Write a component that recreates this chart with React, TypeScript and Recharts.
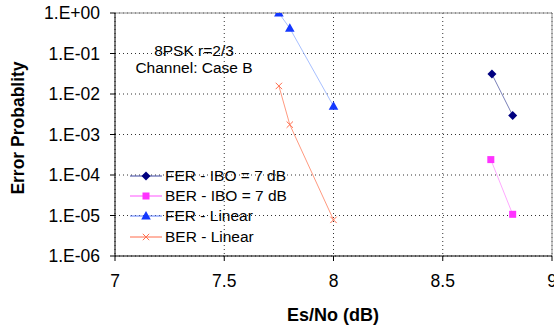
import React from "react";
import {
  CartesianGrid,
  Line,
  LineChart,
  ReferenceLine,
  XAxis,
  YAxis,
} from "recharts";

// Es/No (dB) and error probability
const ferIboX = [8.725, 8.82];
const ferIboY = [3.1e-2, 2.95e-3];
const berIboX = [8.72, 8.82];
const berIboY = [2.4e-4, 1.07e-5];
const ferLinX = [7.75, 7.8, 8.0];
const ferLinY = [1.0, 4.2e-1, 5.0e-3];
const berLinX = [7.75, 7.8, 8.0];
const berLinY = [1.58e-2, 1.75e-3, 7.8e-6];

const xTicks = [7, 7.5, 8, 8.5, 9];
const yTicks = [1e-6, 1e-5, 1e-4, 1e-3, 1e-2, 1e-1, 1];

const FONT = '"Liberation Sans", Arial, sans-serif';

type MarkerKind = "diamond" | "square" | "triangle" | "cross";

const SERIES: {
  key: string;
  name: string;
  xs: number[];
  ys: number[];
  marker: MarkerKind;
  fill: string;
  line: string;
  legendLine: string;
}[] = [
  { key: "ferIbo", name: "FER - IBO = 7 dB", xs: ferIboX, ys: ferIboY, marker: "diamond", fill: "#000080", line: "#7a80b8", legendLine: "#3a44a0" },
  { key: "berIbo", name: "BER - IBO = 7 dB", xs: berIboX, ys: berIboY, marker: "square", fill: "#ff33ff", line: "#ffa8ff", legendLine: "#ff55ff" },
  { key: "ferLin", name: "FER - Linear", xs: ferLinX, ys: ferLinY, marker: "triangle", fill: "#1438ff", line: "#a8c0ff", legendLine: "#5a7cff" },
  { key: "berLin", name: "BER - Linear", xs: berLinX, ys: berLinY, marker: "cross", fill: "#ff7050", line: "#ff9a80", legendLine: "#ff6a4a" },
];

const toRows = (xs: number[], ys: number[]) => xs.map((x, i) => ({ x, y: ys[i] }));

const formatExp = (v: number) => {
  const e = Math.round(Math.log10(v));
  const sign = e < 0 ? "-" : "+";
  return `1.E${sign}${String(Math.abs(e)).padStart(2, "0")}`;
};

function Marker({ kind, cx, cy, color }: { kind: MarkerKind; cx: number; cy: number; color: string }) {
  if (kind === "diamond") {
    const r = 4.5;
    return <path d={`M${cx},${cy - r}L${cx + r},${cy}L${cx},${cy + r}L${cx - r},${cy}Z`} fill={color} />;
  }
  if (kind === "square") {
    return <rect x={cx - 3.5} y={cy - 3.5} width={7} height={7} fill={color} />;
  }
  if (kind === "triangle") {
    return <path d={`M${cx},${cy - 5}L${cx + 4.8},${cy + 3.5}L${cx - 4.8},${cy + 3.5}Z`} fill={color} />;
  }
  const r = 3.2;
  return (
    <path
      d={`M${cx - r},${cy - r}L${cx + r},${cy + r}M${cx - r},${cy + r}L${cx + r},${cy - r}`}
      stroke={color}
      strokeWidth={1}
      fill="none"
    />
  );
}

function LegendBox() {
  return (
    <div style={{ position: "absolute", left: 128, top: 166, fontFamily: FONT, fontSize: 15.5, color: "#000" }}>
      {SERIES.map((s) => (
        <div key={s.key} style={{ display: "flex", alignItems: "center", height: 20.2 }}>
          <svg width={37} height={20} style={{ display: "block" }}>
            <line x1={2} y1={10} x2={34} y2={10} stroke={s.legendLine} strokeWidth={1} />
            <Marker kind={s.marker} cx={18} cy={10} color={s.fill} />
          </svg>
          <span style={{ whiteSpace: "nowrap" }}>{s.name}</span>
        </div>
      ))}
    </div>
  );
}

export default function App() {
  return (
    <div style={{ position: "absolute", left: 0, top: 0, width: 554, height: 330, background: "#fff", fontFamily: FONT }}>
      <LineChart width={554} height={330} margin={{ top: 13, right: 2, bottom: 0, left: 0 }}>
        <CartesianGrid stroke="#333" strokeDasharray="1 3" vertical horizontal />
        <XAxis
          type="number"
          dataKey="x"
          domain={[7, 9]}
          ticks={xTicks}
          interval={0}
          allowDataOverflow
          stroke="#000"
          tickSize={5}
          tickMargin={14}
          tick={{ fontSize: 17.5, fill: "#000", fontFamily: FONT }}
          height={74}
        />
        <YAxis
          type="number"
          dataKey="y"
          scale="log"
          domain={[1e-6, 1]}
          ticks={yTicks}
          interval={0}
          allowDataOverflow
          stroke="#000"
          width={115}
          tickSize={5}
          tickMargin={10}
          tickFormatter={formatExp}
          tick={{ fontSize: 17.5, fill: "#000", fontFamily: FONT }}
        />
        <ReferenceLine y={1} stroke="#8c8c8c" strokeWidth={1} />
        <ReferenceLine x={9} stroke="#8c8c8c" strokeWidth={1} />
        {SERIES.map((s) => (
          <Line
            key={s.key}
            data={toRows(s.xs, s.ys)}
            dataKey="y"
            name={s.name}
            stroke={s.line}
            strokeWidth={1}
            isAnimationActive={false}
            dot={(p: any) => <Marker key={`${s.key}-${p.index}`} kind={s.marker} cx={p.cx} cy={p.cy} color={s.fill} />}
            activeDot={false}
          />
        ))}
      </LineChart>
      <LegendBox />
      <div style={{ position: "absolute", left: 114, top: 42, width: 160, textAlign: "center", fontSize: 15.5, lineHeight: "17px" }}>
        8PSK r=2/3
        <br />
        Channel: Case B
      </div>
      <div
        style={{
          position: "absolute",
          left: 18,
          top: 128,
          transform: "translate(-50%, -50%) rotate(-90deg)",
          fontWeight: "bold",
          fontSize: 17.5,
          whiteSpace: "nowrap",
        }}
      >
        Error Probablity
      </div>
      <div
        style={{
          position: "absolute",
          left: 333,
          top: 315,
          transform: "translate(-50%, -50%)",
          fontWeight: "bold",
          fontSize: 18,
          whiteSpace: "nowrap",
        }}
      >
        Es/No (dB)
      </div>
    </div>
  );
}
